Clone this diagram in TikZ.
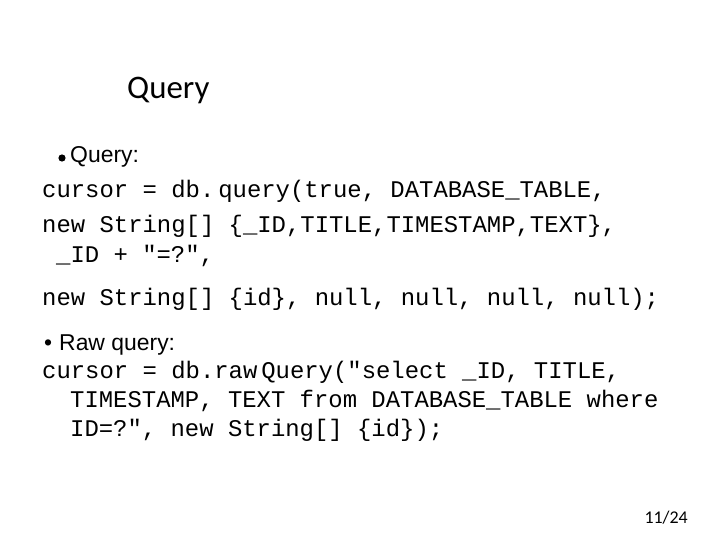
\documentclass[tikz,border=0pt]{standalone}
\usepackage{fontspec}
\setmainfont{Liberation Sans}
\newfontfamily\calib{Carlito}
\newfontfamily\codefont{Liberation Mono}
\tikzset{
  txt/.style={anchor=base west, inner sep=0pt, font=\fontsize{23}{23}\selectfont},
  code/.style={anchor=base west, inner sep=0pt, font=\codefont\fontsize{24}{24}\selectfont},
}
\begin{document}
\begin{tikzpicture}[x=1bp,y=-1bp]
  \useasboundingbox (0,0) rectangle (720,540);
  % title
  \node[anchor=base west, inner sep=0pt, font=\calib\fontsize{33}{33}\selectfont] (title) at (127,99) {Query};
  % first block
  \fill (62,158) circle (3.6);
  \node[txt] (q1) at (70,163) {Query:};
  \node[code] (c1) at (42,198) {cursor = db.\,query(true, DATABASE\_TABLE,};
  \node[code] (c2) at (42,233) {new String[] \{\_ID,TITLE,TIMESTAMP,TEXT\},};
  \node[code] (c3) at (56,263) {\_ID + "=?",};
  \node[code] (c4) at (42,305) {new String[] \{id\}, null, null, null, null);};
  % second block
  \node[txt] (b2) at (44,350) {•\hspace{7bp}Raw query:};
  \node[code] (r1) at (42,378) {cursor = db.raw\,Query("select \_ID, TITLE,};
  \node[code] (r2) at (70,407) {TIMESTAMP, TEXT from DATABASE\_TABLE where};
  \node[code] (r3) at (70,436) {ID=?", new String[] \{id\});};
  % page number
  \node[anchor=base east, inner sep=0pt, font=\calib\fontsize{18}{18}\selectfont] (pg) at (688,523) {11/24};
\end{tikzpicture}
\end{document}
